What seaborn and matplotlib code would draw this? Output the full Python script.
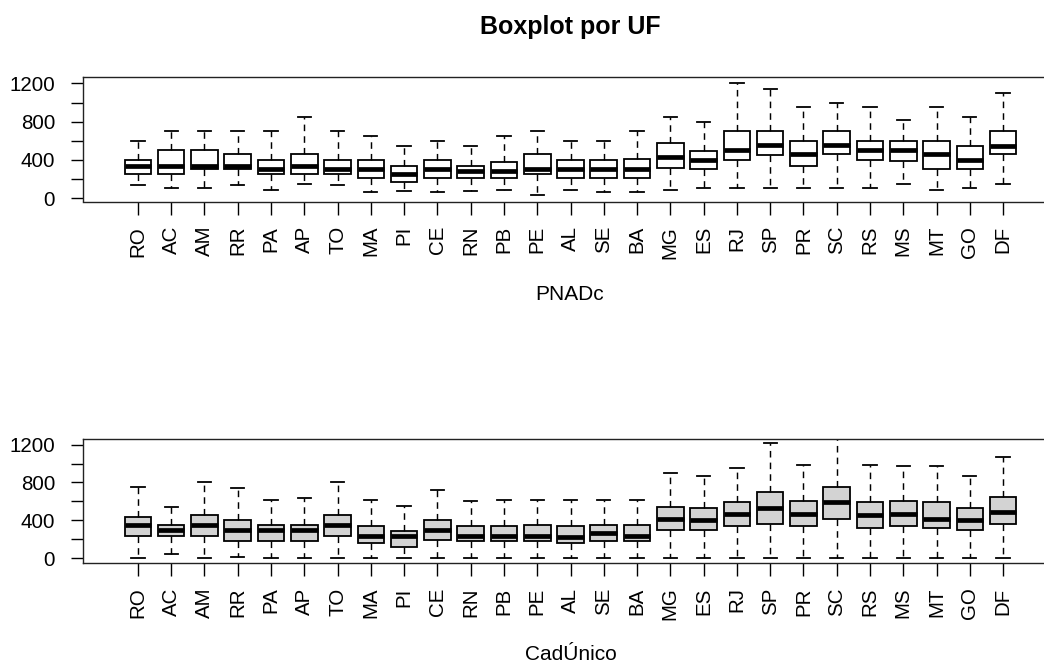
import numpy as np
import pandas as pd
import matplotlib
matplotlib.use("Agg")
import matplotlib.pyplot as plt
import seaborn as sns

# ---------------- data ----------------
ufs = ["RO", "AC", "AM", "RR", "PA", "AP", "TO", "MA", "PI", "CE", "RN", "PB", "PE",
       "AL", "SE", "BA", "MG", "ES", "RJ", "SP", "PR", "SC", "RS", "MS", "MT", "GO", "DF"]

# PNADc panel: lower whisker, Q1, median, Q3, upper whisker
pnad_min = [140, 110, 110, 140, 85, 150, 140, 60, 70, 60, 70, 85, 30,
            85, 60, 60, 85, 110, 110, 110, 110, 110, 110, 150, 85, 110, 150]
pnad_q1 = [250, 250, 300, 300, 250, 250, 250, 210, 170, 210, 210, 210, 250,
           210, 210, 210, 320, 300, 400, 450, 340, 460, 400, 390, 300, 300, 460]
pnad_med = [340, 340, 340, 340, 300, 340, 300, 300, 250, 300, 280, 280, 300,
            300, 300, 300, 430, 400, 500, 560, 460, 560, 500, 500, 460, 400, 550]
pnad_q3 = [400, 500, 500, 460, 400, 460, 400, 400, 340, 400, 340, 380, 460,
           400, 400, 410, 580, 490, 700, 700, 600, 700, 600, 600, 600, 550, 700]
pnad_max = [600, 700, 700, 700, 700, 850, 700, 650, 550, 600, 550, 650, 700,
            600, 600, 700, 850, 800, 1200, 1140, 950, 1000, 950, 820, 950, 850, 1100]

# CadÚnico panel
cad_min = [0, 40, 0, 15, 0, 0, 0, 0, 0, 0, 0, 0, 0,
           0, 0, 0, 0, 0, 0, 0, 0, 0, 0, 0, 0, 0, 0]
cad_q1 = [235, 235, 235, 180, 180, 180, 235, 165, 120, 190, 180, 180, 180,
          165, 180, 180, 300, 295, 345, 360, 345, 415, 320, 345, 320, 295, 360]
cad_med = [350, 300, 350, 300, 300, 300, 350, 235, 230, 300, 235, 235, 235,
           225, 265, 235, 410, 405, 465, 530, 470, 590, 460, 470, 415, 400, 490]
cad_q3 = [440, 350, 460, 400, 355, 355, 460, 340, 290, 400, 340, 340, 350,
          340, 355, 355, 540, 530, 590, 700, 600, 750, 590, 600, 590, 530, 645]
cad_max = [750, 540, 810, 740, 620, 640, 810, 610, 555, 725, 600, 610, 620,
           610, 620, 620, 905, 865, 950, 1220, 980, 1320, 980, 970, 970, 865, 1065]

title = "Boxplot por UF"
xlabel_top = "PNADc"
xlabel_bottom = "CadÚnico"
ytick_vals = [0, 200, 400, 600, 800, 1000, 1200]
ytick_labels = ["0", "", "400", "", "800", "", "1200"]


def long_frame(mins, q1s, meds, q3s, maxs):
    rows = []
    for i, uf in enumerate(ufs):
        for v in (mins[i], q1s[i], meds[i], q3s[i], maxs[i]):
            rows.append({"uf": uf, "valor": v})
    return pd.DataFrame(rows)


df_pnad = long_frame(pnad_min, pnad_q1, pnad_med, pnad_q3, pnad_max)
df_cad = long_frame(cad_min, cad_q1, cad_med, cad_q3, cad_max)

# ---------------- style ----------------
plt.rcParams["font.family"] = ["Liberation Sans", "DejaVu Sans"]
plt.rcParams["axes.linewidth"] = 1.0
plt.rcParams["lines.scale_dashes"] = True

W, H = 1044, 666
fig = plt.figure(figsize=(W / 100, H / 100), dpi=100)
fig.patch.set_facecolor("white")

left_px, right_px = 83, 1058
ax_top = fig.add_axes([left_px / W, 1 - 201.5 / H, (right_px - left_px) / W, 124.5 / H])
ax_bot = fig.add_axes([left_px / W, 1 - 563.3 / H, (right_px - left_px) / W, 124.0 / H])


def draw(ax, df, fill, ylim):
    sns.boxplot(
        data=df, x="uf", y="valor", order=ufs, ax=ax,
        color=fill, saturation=1, width=0.8, whis=(0, 100),
        linecolor="black", linewidth=1.3,
        medianprops=dict(linewidth=3.4, color="black", solid_capstyle="butt"),
        whiskerprops=dict(linestyle=(0, (4.5, 3.5)), linewidth=1.05, color="black"),
        capprops=dict(linewidth=1.3, color="black"),
        boxprops=dict(linewidth=1.3, edgecolor="black"),
        showfliers=False,
    )
    ax.set_xlim(-1.65, len(ufs) - 1 + 1.65)
    ax.set_ylim(*ylim)
    ax.set_yticks(ytick_vals)
    ax.set_yticklabels(ytick_labels)
    ax.set_xlabel("")
    ax.set_ylabel("")
    ax.tick_params(axis="both", direction="out", length=9, width=1.0,
                   labelsize=14.8, colors="black")
    ax.tick_params(axis="y", pad=11)
    ax.tick_params(axis="x", pad=8.5, labelrotation=90)
    for s in ax.spines.values():
        s.set_visible(True)
        s.set_color("#222222")
        s.set_linewidth(1.0)
    ax.set_facecolor("white")
    ax.grid(False)


draw(ax_top, df_pnad, "white", (-35, 1267))
draw(ax_bot, df_cad, "#D3D3D3", (-53, 1256))

fig.text(570 / W, 1 - 34 / H, title, ha="center", va="baseline",
         fontsize=18, fontweight="bold", color="black")
fig.text(570 / W, 1 - 300 / H, xlabel_top, ha="center", va="baseline",
         fontsize=15, color="black")
fig.text(571 / W, 1 - 660 / H, xlabel_bottom, ha="center", va="baseline",
         fontsize=15, color="black")

fig.savefig("out.png", dpi=100, facecolor="white")
